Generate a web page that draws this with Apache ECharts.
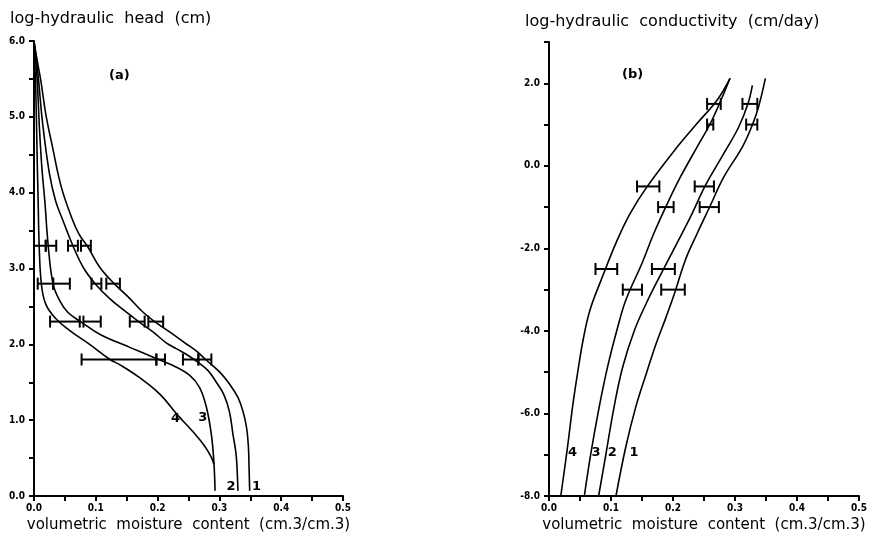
<!DOCTYPE html>
<html>
<head>
<meta charset="utf-8">
<script src="https://cdn.jsdelivr.net/npm/echarts@6/dist/echarts.min.js"></script>
<style>
  html, body { margin: 0; padding: 0; background: #fff; }
  #chart { width: 871px; height: 547px; }
</style>
</head>
<body>
<div id="chart"></div>
<script>
// (a) moisture retention: [volumetric moisture content, log-hydraulic head]
const headCurve1 = [[0,6.0],[0.005,5.75],[0.011,5.48],[0.019,5.04],[0.030,4.6],[0.044,4.08],[0.061,3.67],[0.073,3.45],[0.086,3.30],[0.107,3.01],[0.131,2.79],[0.152,2.63],[0.177,2.42],[0.197,2.29],[0.220,2.16],[0.244,2.02],[0.263,1.91],[0.279,1.79],[0.301,1.63],[0.317,1.47],[0.330,1.30],[0.338,1.12],[0.344,0.90],[0.347,0.64],[0.348,0.37],[0.349,0.07]];
const headCurve2 = [[0,6.0],[0.006,5.6],[0.014,4.91],[0.025,4.25],[0.035,3.89],[0.047,3.63],[0.063,3.30],[0.080,3.01],[0.100,2.79],[0.123,2.60],[0.150,2.42],[0.171,2.29],[0.193,2.16],[0.214,2.02],[0.231,1.94],[0.250,1.85],[0.266,1.76],[0.282,1.65],[0.295,1.50],[0.307,1.34],[0.316,1.12],[0.322,0.81],[0.327,0.55],[0.329,0.29],[0.330,0.07]];
const headCurve3 = [[0,6.0],[0.005,5.5],[0.009,4.82],[0.013,4.3],[0.0175,3.89],[0.023,3.30],[0.031,2.79],[0.042,2.57],[0.055,2.42],[0.077,2.29],[0.107,2.13],[0.155,1.96],[0.193,1.83],[0.225,1.72],[0.252,1.59],[0.268,1.43],[0.279,1.17],[0.287,0.81],[0.291,0.46],[0.293,0.07]];
const headCurve4 = [[0,6.0],[0.003,5.3],[0.005,4.5],[0.0067,3.89],[0.0084,3.30],[0.012,2.79],[0.019,2.53],[0.034,2.35],[0.058,2.18],[0.090,2.00],[0.123,1.80],[0.139,1.73],[0.171,1.56],[0.204,1.34],[0.231,1.08],[0.258,0.84],[0.276,0.66],[0.287,0.51],[0.291,0.42]];

// (a) measured ranges: [log-hydraulic head, low, high]
const headRange1 = [[3.3,0.076,0.092],[2.8,0.117,0.139],[2.3,0.185,0.209],[1.8,0.266,0.287]];
const headRange2 = [[3.3,0.055,0.071],[2.8,0.093,0.109],[2.3,0.155,0.179],[1.8,0.241,0.266]];
const headRange3 = [[3.3,0.019,0.036],[2.8,0.031,0.058],[2.3,0.080,0.108],[1.8,0.198,0.212]];
const headRange4 = [[3.3,0.000,0.019],[2.8,0.006,0.031],[2.3,0.026,0.074],[1.8,0.077,0.198]];

// (b) conductivity: [volumetric moisture content, log-hydraulic conductivity]
const condCurve1 = [[0.108,-8.0],[0.124,-6.80],[0.140,-5.84],[0.157,-5.03],[0.173,-4.30],[0.189,-3.66],[0.2025,-3.09],[0.220,-2.28],[0.239,-1.64],[0.2606,-0.95],[0.282,-0.27],[0.312,0.46],[0.328,0.99],[0.338,1.43],[0.349,2.12]];
const condCurve2 = [[0.080,-8.0],[0.092,-6.97],[0.105,-5.84],[0.119,-4.87],[0.138,-3.98],[0.157,-3.33],[0.1755,-2.77],[0.209,-1.80],[0.231,-1.15],[0.2525,-0.47],[0.282,0.30],[0.306,0.94],[0.321,1.51],[0.328,1.95]];
const condCurve3 = [[0.057,-8.0],[0.0675,-6.97],[0.081,-5.84],[0.0945,-4.87],[0.111,-3.90],[0.124,-3.25],[0.150,-2.36],[0.169,-1.64],[0.191,-0.91],[0.212,-0.27],[0.239,0.46],[0.263,1.11],[0.292,2.12]];
const condCurve4 = [[0.019,-8.0],[0.030,-6.80],[0.038,-5.84],[0.046,-5.03],[0.055,-4.22],[0.066,-3.50],[0.084,-2.77],[0.110,-1.80],[0.131,-1.15],[0.158,-0.51],[0.207,0.46],[0.239,1.03],[0.271,1.59],[0.292,2.12]];

// (b) measured ranges: [log-hydraulic conductivity, low, high]
const condRange1 = [[1.0,0.318,0.336],[-1.0,0.243,0.274],[-3.0,0.181,0.219]];
const condRange2 = [[1.5,0.312,0.336],[-0.5,0.235,0.266],[-2.5,0.166,0.203]];
const condRange3 = [[1.0,0.255,0.265],[-1.0,0.176,0.201],[-3.0,0.119,0.150]];
const condRange4 = [[1.5,0.255,0.277],[-0.5,0.142,0.178],[-2.5,0.075,0.110]];

// tick labels
const thetaLabels = ['0.0', '0.1', '0.2', '0.3', '0.4', '0.5'];
const headLabels = ['0.0', '1.0', '2.0', '3.0', '4.0', '5.0', '6.0'];
const condLabels = ['-8.0', '-6.0', '-4.0', '-2.0', '0.0', '2.0'];

const soilNames = ['1', '2', '3', '4'];

const INK = '#000';
const tickFont = "'DejaVu Sans Condensed', 'DejaVu Sans', sans-serif";
const textFont = "'DejaVu Sans', sans-serif";

function pickLabel(labels, v, start, step) {
  const k = (v - start) / step;
  const r = Math.round(k);
  if (Math.abs(k - r) > 1e-6 || r < 0 || r >= labels.length) return '';
  return labels[r];
}

function xAxisFor(gridIndex) {
  return {
    type: 'value', gridIndex, min: 0, max: 0.5, interval: 0.05,
    name: 'volumetric  moisture  content  (cm.3/cm.3)',
    nameLocation: 'middle', nameGap: 17,
    nameTextStyle: { color: INK, fontFamily: textFont, fontSize: 15 },
    axisLine: { show: true, onZero: false, lineStyle: { color: INK, width: 2 } },
    axisTick: { show: true, length: 5, lineStyle: { color: INK, width: 2 } },
    axisLabel: {
      color: INK, fontFamily: tickFont, fontWeight: 'bold', fontSize: 10, margin: 7,
      formatter: v => pickLabel(thetaLabels, v, 0, 0.1)
    },
    splitLine: { show: false }
  };
}

function yAxisFor(gridIndex, min, max, step, labels, labelStart, labelStep) {
  return {
    type: 'value', gridIndex, min, max, interval: step,
    axisLine: { show: true, onZero: false, lineStyle: { color: INK, width: 2 } },
    axisTick: { show: true, length: 5, lineStyle: { color: INK, width: 2 } },
    axisLabel: {
      color: INK, fontFamily: tickFont, fontWeight: 'bold', fontSize: 10, margin: 9,
      formatter: v => pickLabel(labels, v, labelStart, labelStep)
    },
    splitLine: { show: false }
  };
}

function rangeItem(params, api) {
  const lvl = api.value(0);
  const a = api.coord([api.value(1), lvl]);
  const b = api.coord([api.value(2), lvl]);
  const c = 6;
  const st = { stroke: INK, lineWidth: 2 };
  return {
    type: 'group',
    children: [
      { type: 'line', shape: { x1: a[0], y1: a[1], x2: b[0], y2: b[1] }, style: st },
      { type: 'line', shape: { x1: a[0], y1: a[1] - c, x2: a[0], y2: a[1] + c }, style: st },
      { type: 'line', shape: { x1: b[0], y1: b[1] - c, x2: b[0], y2: b[1] + c }, style: st }
    ]
  };
}

function curve(data, gridIndex) {
  return {
    type: 'line', data, xAxisIndex: gridIndex, yAxisIndex: gridIndex,
    showSymbol: false, symbol: 'none', smooth: 0.4,
    lineStyle: { color: INK, width: 1.6 }, silent: true, z: 3
  };
}

function ranges(data, gridIndex) {
  return {
    type: 'custom', data, xAxisIndex: gridIndex, yAxisIndex: gridIndex,
    renderItem: rangeItem, encode: { x: [1, 2], y: 0 }, silent: true, z: 4
  };
}

function tags(items, gridIndex, size) {
  return {
    type: 'scatter', xAxisIndex: gridIndex, yAxisIndex: gridIndex,
    symbolSize: 0, silent: true, z: 5,
    itemStyle: { opacity: 1 },
    data: items,
    label: {
      show: true, position: 'inside', color: INK, opacity: 1,
      fontFamily: textFont, fontSize: size, fontWeight: 'bold',
      formatter: p => p.name
    }
  };
}

const chart = echarts.init(document.getElementById('chart'), null, { renderer: 'canvas' });

chart.setOption({
  animation: false,
  backgroundColor: '#fff',
  title: [
    { text: 'log-hydraulic  head  (cm)', left: 5, top: 6,
      textStyle: { color: INK, fontFamily: textFont, fontSize: 16, fontWeight: 'normal' } },
    { text: 'log-hydraulic  conductivity  (cm/day)', left: 520, top: 9,
      textStyle: { color: INK, fontFamily: textFont, fontSize: 16, fontWeight: 'normal' } }
  ],
  grid: [
    { left: 34, top: 41, width: 309, height: 455, containLabel: false },
    { left: 549, top: 42, width: 310, height: 454, containLabel: false }
  ],
  xAxis: [xAxisFor(0), xAxisFor(1)],
  yAxis: [
    yAxisFor(0, 0, 6, 0.5, headLabels, 0, 1),
    yAxisFor(1, -8, 3, 1, condLabels, -8, 2)
  ],
  series: [
    curve(headCurve1, 0), curve(headCurve2, 0), curve(headCurve3, 0), curve(headCurve4, 0),
    ranges(headRange1, 0), ranges(headRange2, 0), ranges(headRange3, 0), ranges(headRange4, 0),
    curve(condCurve1, 1), curve(condCurve2, 1), curve(condCurve3, 1), curve(condCurve4, 1),
    ranges(condRange1, 1), ranges(condRange2, 1), ranges(condRange3, 1), ranges(condRange4, 1),
    tags([
      { name: soilNames[0], value: [0.360, 0.13] },
      { name: soilNames[1], value: [0.319, 0.13] },
      { name: soilNames[2], value: [0.273, 1.04] },
      { name: soilNames[3], value: [0.229, 1.02] },
      { name: '(a)', value: [0.138, 5.54] }
    ], 0, 13),
    tags([
      { name: soilNames[0], value: [0.137, -6.95] },
      { name: soilNames[1], value: [0.102, -6.95] },
      { name: soilNames[2], value: [0.076, -6.95] },
      { name: soilNames[3], value: [0.038, -6.95] },
      { name: '(b)', value: [0.135, 2.2] }
    ], 1, 13)
  ]
});
</script>
</body>
</html>
